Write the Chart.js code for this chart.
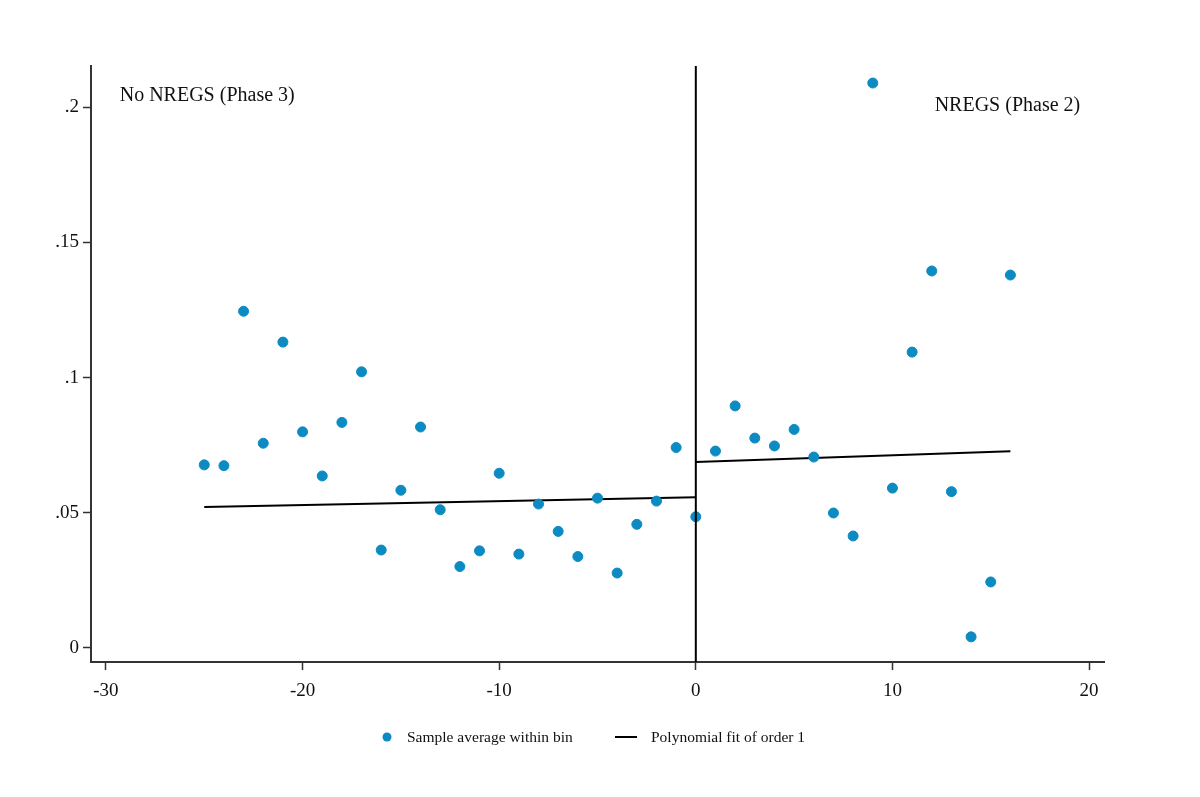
<!DOCTYPE html>
<html>
<head>
<meta charset="utf-8">
<script src="https://cdn.jsdelivr.net/npm/chart.js@4"></script>
<style>
  html, body { margin: 0; padding: 0; background: #fff; }
  #wrap { width: 1200px; height: 797px; }
</style>
</head>
<body>
<div id="wrap"><canvas id="myChart" width="1200" height="797"></canvas></div>
<script>
// bins (running variable) and sample averages
const bins = [-25, -24, -23, -22, -21, -20, -19, -18, -17, -16, -15, -14, -13, -12, -11, -10, -9, -8, -7, -6, -5, -4, -3, -2, -1,
  0, 1, 2, 3, 4, 5, 6, 7, 8, 9, 10, 11, 12, 13, 14, 15, 16];
const binMeans = [0.0677, 0.0674, 0.1245, 0.0757, 0.1131, 0.0799, 0.0636, 0.0834, 0.1021, 0.0362, 0.0583, 0.0817, 0.0511, 0.0301, 0.0359, 0.0646, 0.0347, 0.0532, 0.0431, 0.0338, 0.0554, 0.0277, 0.0457, 0.0543, 0.0741,
  0.0485, 0.0728, 0.0895, 0.0776, 0.0747, 0.0808, 0.0706, 0.0499, 0.0414, 0.2089, 0.0591, 0.1094, 0.1394, 0.0578, 0.0041, 0.0244, 0.1379];

// linear fits on each side of the cutoff
const fitLeftX = [-25, 0];
const fitLeftY = [0.0521, 0.0557];
const fitRightX = [0, 16];
const fitRightY = [0.0688, 0.0727];

const xTicks = [-30, -20, -10, 0, 10, 20];
const yTicks = [0, 0.05, 0.1, 0.15, 0.2];
const yTickLabels = ['0', '.05', '.1', '.15', '.2'];

const cutoff = 0;
const leftLabel = 'No NREGS (Phase 3)';
const rightLabel = 'NREGS (Phase 2)';
const legendLabels = ['Sample average within bin', 'Polynomial fit of order 1'];

const dotColor = '#0b8bc2';
const serif = '"Liberation Serif", "Times New Roman", serif';

const toPoints = (xs, ys) => xs.map((x, i) => ({ x, y: ys[i] }));

// vertical line at the cutoff + the two region labels
const cutoffPlugin = {
  id: 'cutoff',
  afterDatasetsDraw(chart) {
    const { ctx, chartArea, scales } = chart;
    const x = scales.x.getPixelForValue(cutoff);
    ctx.save();
    ctx.strokeStyle = '#000';
    ctx.lineWidth = 2;
    ctx.beginPath();
    ctx.moveTo(x, chartArea.top);
    ctx.lineTo(x, chartArea.bottom);
    ctx.stroke();

    ctx.fillStyle = '#111';
    ctx.font = '20px ' + serif;
    ctx.textBaseline = 'middle';
    ctx.textAlign = 'left';
    ctx.fillText(leftLabel, scales.x.getPixelForValue(-29.3), scales.y.getPixelForValue(0.2041));
    ctx.textAlign = 'right';
    ctx.fillText(rightLabel, scales.x.getPixelForValue(19.55), scales.y.getPixelForValue(0.2004));
    ctx.restore();
  },
};

// Stata-like legend under the plot
const legendPlugin = {
  id: 'stataLegend',
  afterDraw(chart) {
    const { ctx } = chart;
    const y = 737;
    ctx.save();
    ctx.fillStyle = dotColor;
    ctx.beginPath();
    ctx.arc(387, y, 4.5, 0, Math.PI * 2);
    ctx.fill();
    ctx.strokeStyle = '#000';
    ctx.lineWidth = 2;
    ctx.beginPath();
    ctx.moveTo(615, y);
    ctx.lineTo(637, y);
    ctx.stroke();
    ctx.fillStyle = '#111';
    ctx.font = '15.5px ' + serif;
    ctx.textBaseline = 'middle';
    ctx.textAlign = 'left';
    ctx.fillText(legendLabels[0], 407, y + 1);
    ctx.fillText(legendLabels[1], 651, y + 1);
    ctx.restore();
  },
};

const data = {
  datasets: [
    {
      type: 'scatter',
      label: legendLabels[0],
      data: toPoints(bins, binMeans),
      backgroundColor: dotColor,
      borderColor: dotColor,
      pointRadius: 5,
      pointStyle: 'circle',
    },
    {
      type: 'line',
      label: legendLabels[1],
      data: toPoints(fitLeftX, fitLeftY),
      borderColor: '#000',
      borderWidth: 2,
      pointRadius: 0,
      fill: false,
    },
    {
      type: 'line',
      label: legendLabels[1] + ' (right)',
      data: toPoints(fitRightX, fitRightY),
      borderColor: '#000',
      borderWidth: 2,
      pointRadius: 0,
      fill: false,
    },
  ],
};

const config = {
  type: 'scatter',
  data,
  plugins: [cutoffPlugin, legendPlugin],
  options: {
    responsive: false,
    animation: false,
    layout: { padding: { top: 66, right: 96, left: 0, bottom: 75 } },
    plugins: {
      tooltip: { enabled: false },
      legend: { display: false },
    },
    scales: {
      x: {
        type: 'linear',
        min: -30.76,
        max: 20.76,
        afterBuildTicks: (axis) => { axis.ticks = xTicks.map((v) => ({ value: v })); },
        afterFit: (axis) => { axis.height = 60; },
        grid: { drawOnChartArea: false, drawTicks: true, tickLength: 8, tickWidth: 1.5, color: '#333' },
        border: { display: true, color: '#333', width: 2 },
        ticks: { color: '#111', font: { family: serif, size: 19 }, padding: 10, maxRotation: 0 },
      },
      y: {
        type: 'linear',
        min: -0.0052,
        max: 0.2152,
        afterBuildTicks: (axis) => { axis.ticks = yTicks.map((v) => ({ value: v })); },
        afterFit: (axis) => { axis.width = 91; },
        grid: { drawOnChartArea: false, drawTicks: true, tickLength: 8, tickWidth: 1.5, color: '#333' },
        border: { display: true, color: '#333', width: 2 },
        ticks: {
          color: '#111',
          font: { family: serif, size: 19 },
          padding: 4,
          callback: (v) => {
            const i = yTicks.findIndex((t) => Math.abs(t - v) < 1e-9);
            return i >= 0 ? yTickLabels[i] : '';
          },
        },
      },
    },
  },
};

window.addEventListener('DOMContentLoaded', () => {
  const ctx = document.getElementById('myChart');
  new Chart(ctx, config);
});
</script>
</body>
</html>
